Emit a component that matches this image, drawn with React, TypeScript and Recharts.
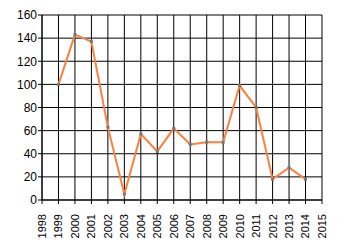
import { LineChart, Line, XAxis, YAxis, CartesianGrid } from 'recharts';

const YEARS = [1999, 2000, 2001, 2002, 2003, 2004, 2005, 2006, 2007, 2008, 2009, 2010, 2011, 2012, 2013, 2014];
const VALUES = [100, 143, 137, 63, 5, 57, 42, 62, 48, 50, 50, 99, 80, 18, 28, 18];
const X_TICKS = [1998, 1999, 2000, 2001, 2002, 2003, 2004, 2005, 2006, 2007, 2008, 2009, 2010, 2011, 2012, 2013, 2014, 2015];
const Y_TICKS = [0, 20, 40, 60, 80, 100, 120, 140, 160];

const data = YEARS.map((year, i) => ({ year, value: VALUES[i] }));

const font = '"Liberation Sans", Arial, sans-serif';

const YearTick = ({ x, y, payload }: any) => (
  <text
    transform={`translate(${x},${y + 8}) rotate(-90)`}
    textAnchor="end"
    dy="0.36em"
    fontSize={11}
    fontFamily={font}
    fill="#000"
  >
    {payload.value}
  </text>
);

const Marker = ({ cx, cy }: any) => (
  <rect x={cx - 1.5} y={cy - 1.5} width={3} height={3} fill="#777" />
);

const App = () => {
  return (
    <div style={{ position: 'absolute', left: 0, top: 0, background: '#fff' }}>
      <LineChart width={340} height={245} data={data} margin={{ top: 15, right: 18, left: 0, bottom: 0 }}>
        <CartesianGrid stroke="#000" strokeWidth={1} />
        <XAxis
          dataKey="year"
          type="number"
          domain={[1998, 2015]}
          ticks={X_TICKS}
          interval={0}
          height={45}
          stroke="#000"
          tickSize={4}
          tick={<YearTick />}
        />
        <YAxis
          domain={[0, 160]}
          ticks={Y_TICKS}
          interval={0}
          width={42}
          stroke="#000"
          tickSize={4}
          tick={{ fill: '#000', fontSize: 12, fontFamily: font }}
          tickMargin={1}
        />
        <Line
          dataKey="value"
          stroke="#FF7F3F"
          strokeWidth={2}
          dot={<Marker />}
          activeDot={false}
          isAnimationActive={false}
        />
      </LineChart>
    </div>
  );
};

export default App;
